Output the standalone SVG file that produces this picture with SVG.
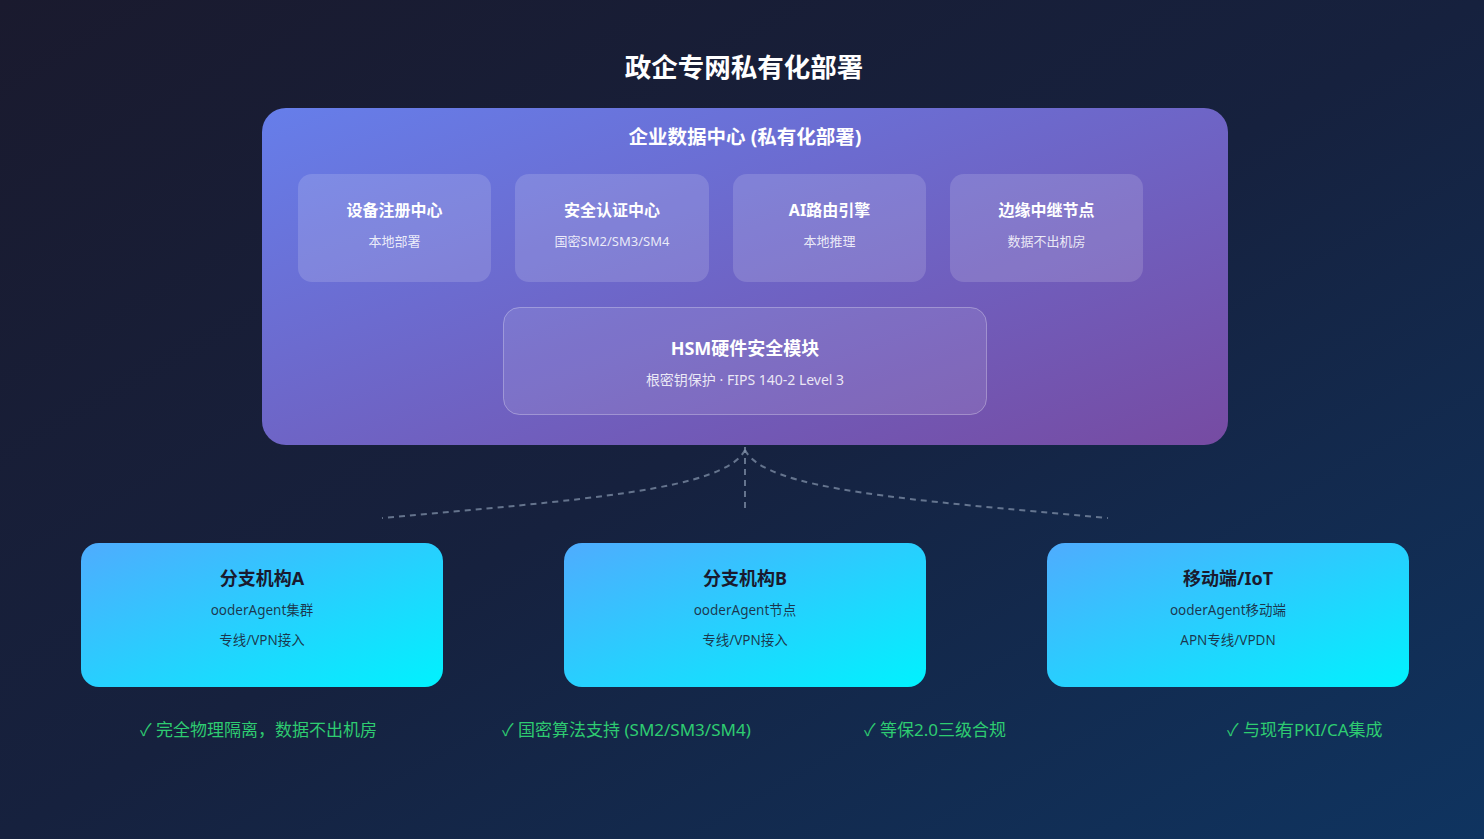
<svg xmlns="http://www.w3.org/2000/svg" width="1484" height="839" viewBox="0 0 1484 839">
<defs>
<linearGradient id="bg" x1="0" y1="0" x2="1" y2="1">
<stop offset="0" stop-color="#1a1a2e"/>
<stop offset="0.5" stop-color="#16213e"/>
<stop offset="1" stop-color="#0f3460"/>
</linearGradient>
<linearGradient id="dc" x1="0" y1="0" x2="1" y2="1">
<stop offset="0" stop-color="#667eea"/>
<stop offset="1" stop-color="#764ba2"/>
</linearGradient>
<linearGradient id="br" x1="0" y1="0" x2="1" y2="1">
<stop offset="0" stop-color="#4facfe"/>
<stop offset="1" stop-color="#00f2fe"/>
</linearGradient>
<style>
.cjk{font-family:"Noto Sans","Noto Sans CJK SC",sans-serif}
.t{fill:#ffffff;font-weight:bold;text-anchor:middle}
.s{fill:#ffffff;fill-opacity:0.85;font-size:13px;text-anchor:middle}
.sub{fill:#ffffff;fill-opacity:0.15}
.bt{fill:#1a1a2e;font-weight:bold;font-size:18px;text-anchor:middle}
.bs{fill:#1a1a2e;fill-opacity:0.85;font-size:13.5px;text-anchor:middle}
.chk{fill:#2ecc71;font-size:17px}
.con{fill:none;stroke:#8090a8;stroke-opacity:0.75;stroke-width:2;stroke-dasharray:6 5}
</style>
</defs>
<rect width="1484" height="839" fill="url(#bg)"/>
<text class="cjk t" x="744" y="77" font-size="26.5">政企专网私有化部署</text>

<g id="datacenter">
<rect x="262" y="108" width="966" height="337" rx="24" fill="url(#dc)"/>
<text class="cjk t" x="745" y="144" font-size="19.5">企业数据中心 (私有化部署)</text>
</g>
<g id="reg">
<rect class="sub" x="298" y="174" width="193" height="108" rx="14"/>
<text class="cjk t" x="394.5" y="216" font-size="16">设备注册中心</text>
<text class="cjk s" x="394.5" y="246">本地部署</text>
</g>
<g id="auth">
<rect class="sub" x="515" y="174" width="194" height="108" rx="14"/>
<text class="cjk t" x="612" y="216" font-size="16">安全认证中心</text>
<text class="cjk s" x="612" y="246">国密SM2/SM3/SM4</text>
</g>
<g id="ai">
<rect class="sub" x="733" y="174" width="193" height="108" rx="14"/>
<text class="cjk t" x="829.5" y="216" font-size="16">AI路由引擎</text>
<text class="cjk s" x="829.5" y="246">本地推理</text>
</g>
<g id="edge">
<rect class="sub" x="950" y="174" width="193" height="108" rx="14"/>
<text class="cjk t" x="1046.5" y="216" font-size="16">边缘中继节点</text>
<text class="cjk s" x="1046.5" y="246">数据不出机房</text>
</g>
<g id="hsm">
<rect x="503.5" y="307.5" width="483" height="107" rx="16" fill="#ffffff" fill-opacity="0.1" stroke="#ffffff" stroke-opacity="0.3"/>
<text class="cjk t" x="745" y="355" font-size="18">HSM硬件安全模块</text>
<text class="cjk s" x="745" y="385" font-size="14" style="font-size:14px">根密钥保护 · FIPS 140-2 Level 3</text>
</g>

<g id="connectors">
<path class="con" d="M745,447 L745,513"/>
<path class="con" d="M745,450 C725,490 580,500 382,518"/>
<path class="con" d="M745,450 C765,490 910,500 1108,518"/>
</g>

<g id="branchA">
<rect x="81" y="543" width="362" height="144" rx="18" fill="url(#br)"/>
<text class="cjk bt" x="262" y="585">分支机构A</text>
<text class="cjk bs" x="262" y="615">ooderAgent集群</text>
<text class="cjk bs" x="262" y="645">专线/VPN接入</text>
</g>
<g id="branchB">
<rect x="564" y="543" width="362" height="144" rx="18" fill="url(#br)"/>
<text class="cjk bt" x="745" y="585">分支机构B</text>
<text class="cjk bs" x="745" y="615">ooderAgent节点</text>
<text class="cjk bs" x="745" y="645">专线/VPN接入</text>
</g>
<g id="mobile">
<rect x="1047" y="543" width="362" height="144" rx="18" fill="url(#br)"/>
<text class="cjk bt" x="1228" y="585">移动端/IoT</text>
<text class="cjk bs" x="1228" y="615">ooderAgent移动端</text>
<text class="cjk bs" x="1228" y="645">APN专线/VPDN</text>
</g>

<g id="features">
<text class="cjk chk" x="140" y="736">✓ 完全物理隔离，数据不出机房</text>
<text class="cjk chk" x="502" y="736">✓ 国密算法支持 (SM2/SM3/SM4)</text>
<text class="cjk chk" x="864" y="736">✓ 等保2.0三级合规</text>
<text class="cjk chk" x="1227" y="736">✓ 与现有PKI/CA集成</text>
</g>
</svg>
